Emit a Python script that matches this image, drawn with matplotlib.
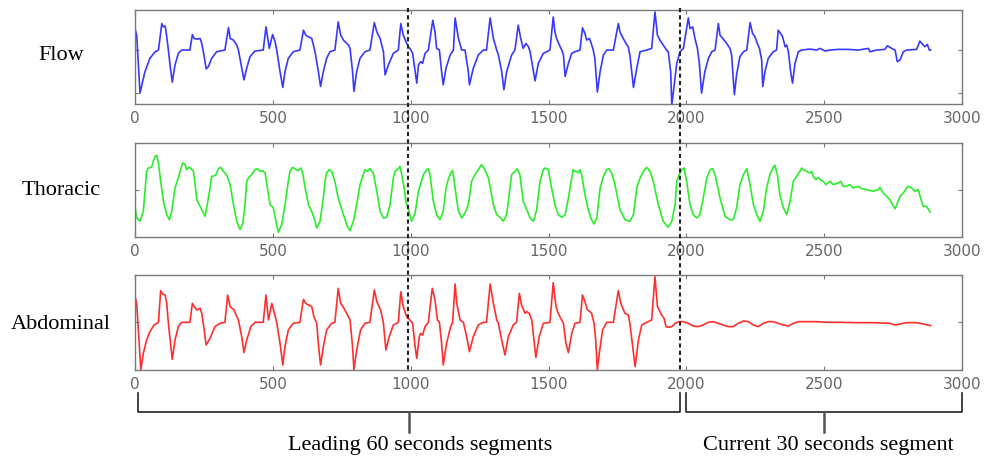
import matplotlib
matplotlib.use("Agg")
import matplotlib.pyplot as plt
from matplotlib.transforms import blended_transform_factory
from matplotlib.lines import Line2D

# keypoints (sample index, amplitude in arbitrary units)
flow_x = [0, 6, 18, 36, 54, 73, 85, 97, 103, 109, 112, 121, 127, 135, 145, 157, 169, 199, 208, 214,
          224, 236, 242, 250, 258, 266, 278, 296, 326, 339, 345, 357, 369, 375, 387, 395, 405, 417, 435, 465,
          475, 487, 499, 508, 514, 526, 536, 544, 556, 574, 598, 611, 619, 629, 641, 647, 653, 665, 673, 683,
          695, 707, 725, 737, 746, 756, 774, 780, 789, 794, 804, 816, 834, 852, 868, 877, 889, 901, 907, 919,
          937, 955, 964, 973, 983, 991, 997, 1007, 1016, 1022, 1028, 1036, 1043, 1052, 1064, 1080, 1088, 1094, 1104, 1112,
          1118, 1128, 1143, 1155, 1161, 1173, 1185, 1197, 1209, 1213, 1227, 1245, 1263, 1275, 1288, 1300, 1312, 1318, 1330, 1338,
          1348, 1366, 1378, 1390, 1399, 1408, 1418, 1427, 1433, 1445, 1451, 1463, 1481, 1505, 1517, 1523, 1529, 1542, 1548, 1554,
          1560, 1572, 1584, 1596, 1614, 1623, 1632, 1638, 1648, 1653, 1662, 1668, 1677, 1687, 1699, 1711, 1735, 1753, 1759, 1771,
          1781, 1789, 1795, 1808, 1820, 1832, 1856, 1874, 1886, 1895, 1904, 1916, 1928, 1934, 1943, 1947, 1953, 1965, 1977, 1989,
          2007, 2013, 2023, 2031, 2040, 2047, 2055, 2067, 2080, 2092, 2104, 2116, 2122, 2132, 2146, 2158, 2164, 2174, 2182, 2194,
          2207, 2219, 2231, 2240, 2249, 2257, 2265, 2273, 2277, 2285, 2297, 2315, 2327, 2333, 2342, 2349, 2358, 2364, 2370, 2378,
          2385, 2394, 2406, 2418, 2448, 2472, 2485, 2503, 2521, 2551, 2587, 2624, 2660, 2666, 2690, 2720, 2729, 2745, 2757, 2765,
          2775, 2787, 2799, 2835, 2847, 2857, 2865, 2874, 2881, 2886]
flow_y = [65, 45, -130, -65, -25, -5, 0, 80, 70, 73, 60, 0, -45, -97, -45, -10, 0, 0, 47, 35,
          33, 35, 20, -15, -57, -50, -25, -5, 0, 68, 35, 30, 15, 0, -55, -90, -55, -20, -3, 0,
          70, 5, 47, 25, 0, -65, -113, -65, -25, -5, 0, 60, 45, 40, 35, 15, -5, -65, -110, -65,
          -25, -5, 0, 85, 45, 30, 15, 5, -65, -125, -65, -25, -5, 0, 83, 55, 35, -5, -75, -45,
          -10, 0, 80, 45, 25, 10, 5, -10, -65, -100, -45, -35, -40, -10, 0, 90, 55, 5, 0, -65,
          -105, -55, -15, 0, 97, 35, 0, 0, -65, -105, -55, -15, 0, 0, 97, 35, 0, -15, -65, -120,
          -65, -15, 0, 75, 35, 5, 20, 10, -5, -65, -93, -40, -10, 0, 100, 55, 35, 10, 0, -15,
          -80, -40, -10, -5, 0, 67, 50, 30, 35, 25, 0, -25, -127, -65, -15, 0, 0, 80, 55, 35,
          20, 10, -15, -113, -55, -5, 0, 5, 115, 45, 30, 15, 0, -5, -65, -165, -125, -40, -5, 5,
          97, 65, 70, 35, 5, -40, -130, -65, -25, -5, 0, 80, 45, 35, 20, 5, -15, -135, -75, -20,
          -5, 0, 83, 50, 40, 20, 5, -30, -110, -65, -25, -5, 0, 60, 50, 40, 10, 15, -5, -65,
          -100, -40, -5, 0, 3, 0, 5, -3, 0, 2, 2, 0, 5, -5, 0, 2, 13, 5, 0, -35,
          -30, -5, 0, 2, 27, 17, 10, 17, 0, 0]

thor_x = [0, 6, 18, 30, 36, 42, 48, 60, 66, 73, 79, 85, 93, 103, 115, 125, 133, 145, 157, 163,
          173, 181, 187, 193, 199, 206, 212, 218, 224, 236, 248, 254, 262, 272, 278, 284, 294, 302, 311, 320,
          332, 345, 357, 369, 381, 391, 399, 405, 411, 423, 435, 444, 453, 463, 472, 480, 490, 502, 511, 520,
          532, 544, 556, 562, 571, 580, 592, 601, 608, 617, 629, 641, 653, 659, 671, 683, 689, 695, 704, 713,
          725, 737, 756, 770, 780, 792, 804, 816, 828, 834, 843, 852, 864, 877, 889, 901, 913, 925, 937, 943,
          955, 961, 967, 976, 983, 991, 1003, 1016, 1028, 1046, 1058, 1064, 1070, 1082, 1094, 1106, 1118, 1128, 1136, 1145,
          1152, 1161, 1173, 1185, 1197, 1209, 1221, 1233, 1245, 1257, 1269, 1282, 1300, 1312, 1324, 1336, 1348, 1360, 1366, 1378,
          1387, 1396, 1408, 1421, 1433, 1445, 1457, 1469, 1481, 1487, 1499, 1511, 1523, 1535, 1548, 1560, 1572, 1584, 1590, 1596,
          1602, 1608, 1614, 1620, 1632, 1644, 1656, 1665, 1675, 1687, 1699, 1711, 1719, 1729, 1741, 1759, 1777, 1795, 1808, 1820,
          1832, 1844, 1856, 1868, 1880, 1898, 1916, 1934, 1947, 1959, 1965, 1974, 1983, 1991, 2001, 2013, 2025, 2037, 2049, 2061,
          2074, 2086, 2095, 2104, 2122, 2140, 2158, 2170, 2182, 2194, 2207, 2219, 2231, 2243, 2255, 2267, 2279, 2291, 2303, 2315,
          2321, 2330, 2339, 2352, 2364, 2376, 2388, 2400, 2412, 2418, 2424, 2436, 2448, 2454, 2460, 2470, 2479, 2485, 2497, 2506,
          2521, 2533, 2551, 2560, 2569, 2581, 2593, 2605, 2624, 2636, 2654, 2678, 2696, 2702, 2714, 2726, 2738, 2751, 2757, 2763,
          2775, 2787, 2799, 2805, 2817, 2829, 2841, 2853, 2859, 2871, 2884]
thor_y = [-49, -84, -94, -64, -4, 56, 66, 68, 86, 101, 104, 81, 26, -34, -74, -89, -64, 6, 36, 56,
          81, 78, 61, 66, 68, 61, 56, 16, -29, -49, -69, -79, -44, 6, 41, 41, 46, 64, 68, 56,
          46, 16, -44, -94, -119, -99, -44, 26, 36, 46, 61, 64, 56, 58, 51, 6, -44, -54, -94, -127,
          -104, -44, 26, 56, 68, 64, 58, 66, 51, 6, -44, -64, -94, -114, -94, -24, 26, 51, 61, 56,
          26, -24, -74, -109, -122, -94, -44, 16, 46, 61, 56, 64, 51, -4, -64, -84, -82, -44, 36, 56,
          64, 71, 48, 6, -39, -54, -94, -69, -4, 46, 61, 64, 46, -34, -74, -89, -64, 6, 31, 51,
          58, 6, -64, -84, -69, -44, 26, 46, 61, 76, 61, 36, -44, -74, -82, -94, -74, 6, 46, 56,
          63, 46, -34, -59, -84, -94, -59, 26, 61, 66, 61, 6, -44, -74, -82, -74, -24, 36, 61, 56,
          56, 51, 61, 46, -14, -59, -89, -102, -84, 6, 41, 61, 64, 51, 16, -59, -89, -94, -74, 6,
          36, 56, 68, 56, 26, -44, -94, -112, -94, -44, 26, 46, 61, 66, 26, -44, -74, -84, -74, -24,
          36, 61, 64, 46, -24, -79, -89, -89, -54, 16, 46, 64, 16, -44, -74, -94, -64, 6, 46, 68,
          74, 46, -14, -54, -74, -34, 26, 41, 56, 66, 61, 56, 51, 56, 41, 31, 38, 31, 26, 16,
          26, 16, 21, 26, 11, 11, 16, 6, 11, 4, 1, -4, 1, 8, -9, -19, -29, -49, -56, -44,
          -19, -9, 6, 11, 6, -4, 1, -34, -49, -49, -66]

abdo_x = [0, 6, 12, 21, 30, 42, 54, 69, 85, 93, 100, 109, 115, 121, 129, 135, 145, 157, 169, 199,
          208, 215, 224, 236, 242, 250, 258, 272, 290, 308, 326, 336, 345, 359, 369, 375, 387, 395, 405, 420,
          435, 465, 475, 484, 496, 504, 514, 526, 536, 544, 556, 574, 598, 611, 619, 629, 641, 649, 659, 666,
          673, 683, 695, 713, 725, 737, 746, 758, 774, 780, 789, 794, 804, 818, 834, 852, 868, 877, 891, 901,
          910, 922, 937, 955, 964, 973, 985, 997, 1007, 1016, 1022, 1031, 1036, 1043, 1052, 1064, 1078, 1088, 1097, 1104,
          1112, 1118, 1130, 1145, 1152, 1161, 1167, 1179, 1191, 1203, 1213, 1227, 1245, 1263, 1275, 1288, 1300, 1312, 1318, 1330,
          1342, 1354, 1372, 1384, 1394, 1402, 1415, 1421, 1430, 1439, 1447, 1454, 1466, 1481, 1505, 1517, 1527, 1535, 1544, 1554,
          1563, 1572, 1584, 1596, 1614, 1623, 1632, 1641, 1650, 1656, 1665, 1671, 1677, 1684, 1696, 1711, 1735, 1753, 1762, 1777,
          1789, 1795, 1808, 1814, 1826, 1838, 1856, 1874, 1886, 1895, 1910, 1919, 1926, 1934, 1947, 1959, 1974, 1989, 2007, 2025,
          2043, 2061, 2080, 2098, 2116, 2134, 2152, 2170, 2188, 2207, 2225, 2243, 2261, 2279, 2297, 2315, 2333, 2352, 2370, 2388,
          2406, 2436, 2472, 2509, 2557, 2618, 2678, 2738, 2757, 2775, 2799, 2835, 2859, 2886]
abdo_y = [77, 57, -23, -143, -93, -53, -28, -8, 0, 95, 85, 82, 57, -3, -63, -111, -53, -13, 0, 0,
          57, 47, 37, 42, 27, -18, -68, -48, -13, -3, 0, 82, 47, 37, 17, 7, -43, -91, -53, -13,
          0, 0, 82, 7, 57, 32, 0, -63, -128, -73, -23, -3, 0, 69, 57, 52, 47, 17, -3, -73,
          -128, -73, -23, -3, 0, 102, 57, 42, 17, 7, -73, -143, -83, -23, -3, 0, 97, 62, 37, -3,
          -83, -43, -8, 0, 92, 47, 17, 7, -3, -73, -108, -43, -33, -38, -13, 0, 102, 67, 7, 0,
          -63, -128, -63, -13, 0, 115, 57, 7, 0, -43, -88, -43, -8, 0, 0, 115, 57, 7, -3, -53,
          -98, -43, -8, 0, 87, 52, 27, 32, 27, 7, -53, -105, -43, -3, 0, 119, 47, 27, 12, -3,
          -63, -91, -33, -3, 0, 82, 62, 37, 32, 27, -3, -53, -143, -93, -23, 0, 0, 95, 57, 27,
          22, -3, -93, -133, -53, -8, 0, 7, 137, 47, 22, 12, -13, -15, -13, -3, 2, 2, -3, -11,
          -13, -8, 0, 2, -3, -8, -13, -13, -3, 4, 2, -8, -13, -3, 2, 2, -3, -8, -11, -3,
          2, 2, 2, 0, 0, -1, -1, -3, -8, -5, -1, -1, -5, -10]

row_labels = ["Flow", "Thoracic", "Abdominal"]
line_colors = ["#3838ff", "#2aee2a", "#ff2e2e"]
xticks = [0, 500, 1000, 1500, 2000, 2500, 3000]
ylims = [(-163, 121), (-141, 141), (-143, 142)]
yticks = [[-130, 0], [0], [0]]
split_x = [990, 1975]                       # dashed segment boundaries
brackets = [(10, 1975, 993), (2000, 3000, 2500)]   # start, end, centre tick
segment_text = ["Leading 60 seconds segments", "Current 30 seconds segment"]
text_x = [1034, 2514]

fig = plt.figure(figsize=(9.9, 4.59), dpi=100)
rects = [[0.1364, 0.7734, 0.8354, 0.2048],
         [0.1364, 0.4837, 0.8354, 0.2048],
         [0.1364, 0.1939, 0.8354, 0.2070]]
label_y = [0.878, 0.586, 0.294]
series = [(flow_x, flow_y), (thor_x, thor_y), (abdo_x, abdo_y)]

axes = []
for i, (xs, ys) in enumerate(series):
    ax = fig.add_axes(rects[i])
    ax.plot(xs, ys, color=line_colors[i], lw=1.2)
    ax.set_xlim(0, 3000)
    ax.set_ylim(*ylims[i])
    ax.set_xticks(xticks)
    ax.set_yticks(yticks[i])
    ax.set_yticklabels([])
    ax.tick_params(direction="in", length=3, color="#777777", top=True, right=True,
                   labelsize=11, labelcolor="#666666", pad=5)
    for s in ax.spines.values():
        s.set_color("#7a7a7a")
        s.set_linewidth(1.0)
    fig.text(0.0616, label_y[i], row_labels[i], ha="center", va="center",
             family="Liberation Serif", fontsize=16)
    axes.append(ax)

# dashed boundaries across all three panels
tr = blended_transform_factory(axes[0].transData, fig.transFigure)
for sx in split_x:
    fig.add_artist(Line2D([sx, sx], [0.9826, 0.1895], transform=tr, color="#222222",
                          lw=1.5, linestyle=(0, (2, 1.5))))

# brackets under the bottom panel
y_top, y_mid, y_bot = 0.1438, 0.1024, 0.0588
for (x0, x1, xc) in brackets:
    fig.add_artist(Line2D([x0, x0, x1, x1], [y_top, y_mid, y_mid, y_top], transform=tr,
                          color="#222222", lw=1.2))
    fig.add_artist(Line2D([xc, xc], [y_mid, y_bot], transform=tr, color="#555555", lw=1.8))

for t, tx in zip(segment_text, text_x):
    fig.text(tx, 0.030, t, transform=tr, ha="center", va="center",
             family="Liberation Serif", fontsize=16)

fig.savefig("out.png", dpi=100)
